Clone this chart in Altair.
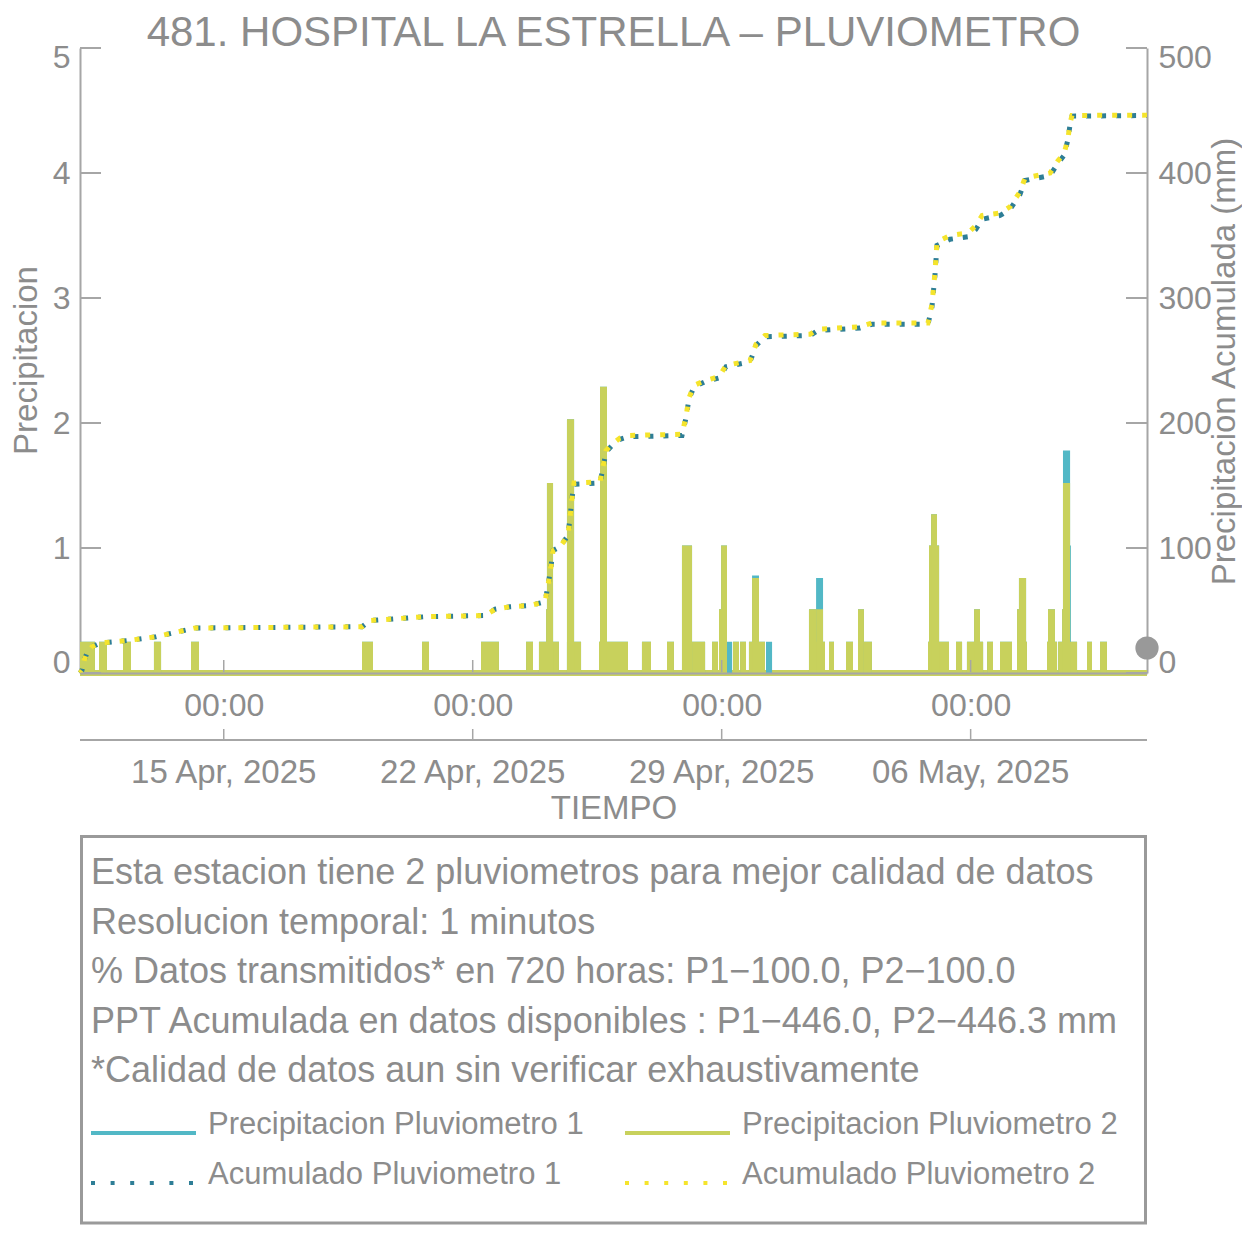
import altair as alt
import pandas as pd

START = pd.Timestamp("2025-04-10 23:00")
FONT = "Liberation Sans"
GRAY = "#8c8c8c"
AXG = "#a6a6a6"
C_P1 = "#52b8c6"
C_P2 = "#c8d15c"
C_A1 = "#2e7e96"
C_A2 = "#f5e42c"

TITLE = "481. HOSPITAL LA ESTRELLA \u2013 PLUVIOMETRO"

# ---- Precipitacion Pluviometro 2 (hours after START, mm) ----
p2_start = [0.0, 12.8, 29.0, 49.9, 74.9, 190.3, 230.8, 270.6, 301.0, 309.7, 314.5, 315.1,
            328.6, 328.6, 350.2, 350.9, 379.2, 396.1, 406.2, 413.0, 426.5, 431.2, 432.6,
            440.6, 445.4, 451.4, 453.5, 491.9, 496.7, 496.7, 505.4, 516.9, 525.0, 529.0,
            572.2, 572.9, 574.3, 591.1, 598.5, 603.3, 612.1, 620.8, 632.3, 632.3, 633.6,
            652.5, 653.2, 660.0, 662.7, 663.3, 679.5, 688.3]
p2_end = [10.1, 18.2, 34.4, 54.7, 80.3, 197.7, 235.5, 282.7, 305.7, 323.2, 319.2, 319.2,
          338.1, 333.4, 369.8, 355.6, 385.3, 400.8, 413.0, 421.8, 430.5, 436.6, 436.6,
          444.7, 449.4, 462.2, 458.2, 496.7, 502.7, 501.4, 508.8, 521.6, 529.0, 534.4,
          586.4, 579.7, 578.3, 595.2, 609.4, 607.3, 616.1, 628.9, 639.0, 635.7, 638.4,
          659.3, 657.9, 672.8, 668.1, 668.1, 682.9, 693.0]
p2_mm = [0.25, 0.25, 0.25, 0.25, 0.25, 0.25, 0.25, 0.25, 0.25, 0.25, 0.51, 1.52,
         0.25, 2.03, 0.25, 2.29, 0.25, 0.25, 1.02, 0.25, 0.25, 0.51, 1.02,
         0.25, 0.25, 0.25, 0.76, 0.51, 0.25, 0.51, 0.25, 0.25, 0.51, 0.25,
         0.25, 1.02, 1.27, 0.25, 0.25, 0.51, 0.25, 0.25, 0.25, 0.51, 0.76,
         0.25, 0.51, 0.25, 0.51, 1.52, 0.25, 0.25]

# ---- Precipitacion Pluviometro 1 ----
p1_start = [0.0, 12.8, 29.0, 49.9, 74.9, 190.3, 230.8, 270.6, 301.0, 309.7, 314.5, 315.1,
            328.6, 328.6, 350.2, 350.9, 379.2, 396.1, 406.2, 413.0, 426.5, 431.2, 432.6,
            440.6, 445.4, 451.4, 453.5, 491.9, 496.7, 496.7, 505.4, 516.9, 525.0, 529.0,
            572.2, 572.9, 574.3, 591.1, 598.5, 603.3, 612.1, 620.8, 632.3, 632.3, 633.6,
            652.5, 653.2, 660.0, 662.7, 663.3, 679.5, 688.3, 436.6, 462.9, 668.1]
p1_end = [10.1, 18.2, 34.4, 54.7, 80.3, 197.7, 235.5, 282.7, 305.7, 323.2, 319.2, 319.2,
          338.1, 333.4, 369.8, 355.6, 385.3, 400.8, 413.0, 421.8, 430.5, 436.6, 436.6,
          444.7, 449.4, 462.2, 458.2, 496.7, 502.7, 501.4, 508.8, 521.6, 529.0, 534.4,
          586.4, 579.7, 578.3, 595.2, 609.4, 607.3, 616.1, 628.9, 639.0, 635.7, 638.4,
          659.3, 657.9, 672.8, 668.1, 668.1, 682.9, 693.0, 440.0, 467.0, 668.7]
p1_mm = [0.25, 0.25, 0.25, 0.25, 0.25, 0.25, 0.25, 0.25, 0.25, 0.25, 0.51, 1.52,
         0.25, 2.03, 0.25, 2.29, 0.25, 0.25, 1.02, 0.25, 0.25, 0.51, 1.02,
         0.25, 0.25, 0.25, 0.78, 0.51, 0.25, 0.76, 0.25, 0.25, 0.51, 0.25,
         0.25, 1.02, 1.27, 0.25, 0.25, 0.51, 0.25, 0.25, 0.25, 0.51, 0.76,
         0.25, 0.51, 0.25, 0.51, 1.78, 0.25, 0.25, 0.25, 0.25, 1.02]

# ---- Acumulado (hours after START, mm) ----
cum_h = [0, 1.3, 2.7, 4.7, 8.1, 13.5, 32.4, 51.3, 77.6, 190.3, 195.7, 232.8, 273.3, 280.1,
         290.0, 303.7, 313.8, 315.8, 317.8, 319.2, 323.9, 329.3, 330.7, 332.0, 333.4, 350.9,
         352.9, 355.0, 359.0, 364.4, 369.8, 406.2, 408.9, 410.9, 414.3, 421.8, 431.2, 435.9,
         452.1, 456.2, 462.2, 492.6, 498.0, 526.4, 534.4, 572.2, 574.9, 576.9, 578.3, 587.1,
         599.2, 604.6, 608.7, 620.8, 627.6, 634.3, 637.7, 654.6, 660.0, 664.0, 666.7, 668.1,
         669.4, 720.0]
cum_p2 = [0, 2, 10, 16, 21, 24, 26, 29, 36, 37, 42, 45, 46, 51, 53, 54, 57, 70, 85, 98,
          101, 110, 125, 140, 152, 153, 165, 178, 183, 188, 190, 191, 205, 220, 230, 234,
          237, 246, 250, 263, 270, 271, 275, 277, 280, 280, 295, 320, 345, 350, 352, 358,
          366, 368, 373, 385, 396, 400, 410, 415, 428, 440, 446, 446.3]
cum_p1 = [0, 2, 10, 16, 21, 24, 26, 29, 36, 37, 42, 45, 46, 51, 53, 54, 57, 70, 85, 98,
          101, 110, 125, 140, 151, 152, 164, 177, 182, 187, 189, 190, 204, 219, 229, 233,
          236, 245, 249, 262, 269, 270, 274, 276, 279, 279, 293, 318, 342, 347, 349, 355,
          363, 366, 371, 383, 394, 398, 408, 414, 427, 439, 445.5, 446.0]

# ---- axes / ticks ----
tick_days = [(2025, 4, 15), (2025, 4, 22), (2025, 4, 29), (2025, 5, 6)]
tick_date_labels = ["15 Apr, 2025", "22 Apr, 2025", "29 Apr, 2025", "06 May, 2025"]
left_ticks = [0, 1, 2, 3, 4, 5]
right_ticks = [0, 100, 200, 300, 400, 500]
marker_h = [720.0]
marker_v = [0.2]

info_lines = [
    "Esta estacion tiene 2 pluviometros para mejor calidad de datos",
    "Resolucion temporal: 1 minutos",
    "% Datos transmitidos* en 720 horas: P1\u2212100.0, P2\u2212100.0",
    "PPT Acumulada en datos disponibles : P1\u2212446.0, P2\u2212446.3 mm",
    "*Calidad de datos aun sin verificar exhaustivamente",
]
legend_labels = ["Precipitacion Pluviometro 1", "Precipitacion Pluviometro 2",
                 "Acumulado Pluviometro 1", "Acumulado Pluviometro 2"]

W, H = 1067, 625


def hours_to_time(h):
    return START + pd.to_timedelta(h, unit="h")


bars1 = pd.DataFrame({"t0": hours_to_time(p1_start), "t1": hours_to_time(p1_end), "v": p1_mm})
bars2 = pd.DataFrame({"t0": hours_to_time(p2_start), "t1": hours_to_time(p2_end), "v": p2_mm})
acc1 = pd.DataFrame({"t": hours_to_time(cum_h), "acc": cum_p1})
acc2 = pd.DataFrame({"t": hours_to_time(cum_h), "acc": cum_p2})
ticks_df = pd.DataFrame({"t": [pd.Timestamp(year=y, month=m, day=d) for y, m, d in tick_days],
                         "lab": tick_date_labels})
lt_df = pd.DataFrame({"v": left_ticks})
rt_df = pd.DataFrame({"acc": right_ticks})
zero_df = pd.DataFrame({"v": [0.0]})
marker_df = pd.DataFrame({"t": hours_to_time(marker_h), "v": marker_v})
one = pd.DataFrame({"k": [0]})

x_scale = alt.Scale(domain=[alt.DateTime(year=2025, month=4, date=10, hours=23),
                            alt.DateTime(year=2025, month=5, date=10, hours=23)],
                    padding=0)
x_axis = alt.Axis(values=[alt.DateTime(year=y, month=m, date=d) for y, m, d in tick_days],
                  format="%H:%M", labelFontSize=32, labelColor=GRAY, labelFont=FONT,
                  labelPadding=17, labelFlush=False, labelOverlap=False,
                  ticks=False, tickSize=0, grid=False,
                  domainColor=AXG, domainWidth=2, zindex=1,
                  title="TIEMPO", titleFontSize=33, titleColor=GRAY, titleFont=FONT,
                  titleFontWeight="normal", titleY=145, titleBaseline="alphabetic")
y_scale = alt.Scale(domain=[0, 5], nice=False, padding=0)
y_axis = alt.Axis(values=left_ticks, format="d", labelFontSize=32, labelColor=GRAY,
                  labelFont=FONT, labelPadding=10, labelFlush=True, labelFlushOffset=6,
                  ticks=False, tickSize=0, grid=False, domainColor=AXG, domainWidth=2,
                  title="Precipitacion", titleFontSize=33, titleColor=GRAY, titleFont=FONT,
                  titleFontWeight="normal", titleAngle=270, titleX=-44, titleY=312,
                  titleAlign="center", titleBaseline="alphabetic")
r_scale = alt.Scale(domain=[0, 500], nice=False, padding=0)
r_axis = alt.Axis(orient="right", values=right_ticks, format="d", labelFontSize=32,
                  labelColor=GRAY, labelFont=FONT, labelPadding=11, labelFlush=True,
                  labelFlushOffset=6,
                  ticks=False, tickSize=0, grid=False, domainColor=AXG, domainWidth=2,
                  title="Precipitacion Acumulada (mm)", titleFontSize=33, titleColor=GRAY,
                  titleFont=FONT, titleFontWeight="normal", titleAngle=270, titleX=87,
                  titleY=313, titleAlign="center", titleBaseline="alphabetic")


def X(f):
    return alt.X(f"{f}:T", scale=x_scale, axis=x_axis)


def Y(f="v"):
    return alt.Y(f"{f}:Q", scale=y_scale, axis=y_axis)


def R(f="acc"):
    return alt.Y(f"{f}:Q", scale=r_scale, axis=r_axis)


title_txt = alt.Chart(one).mark_text(text=TITLE, font=FONT, fontSize=42, color=GRAY,
                                     align="center", baseline="alphabetic").encode(
    x=alt.value(W / 2), y=alt.value(-2))
baseline = alt.Chart(zero_df).mark_rule(color=C_P2, strokeWidth=6).encode(
    y=Y(), x=alt.value(0), x2=alt.value(W))
b1 = alt.Chart(bars1).mark_bar(color=C_P1, opacity=1).encode(
    x=X("t0"), x2="t1", y=Y(), y2=alt.datum(0))
b2 = alt.Chart(bars2).mark_bar(color=C_P2, opacity=1).encode(
    x=X("t0"), x2="t1", y=Y(), y2=alt.datum(0))
lticks = alt.Chart(lt_df).mark_rule(color=AXG, strokeWidth=2).encode(
    y=Y(), x=alt.value(0), x2=alt.value(21))
bticks = alt.Chart(ticks_df).mark_rule(color=AXG, strokeWidth=1.5).encode(
    x=X("t"), y=alt.value(612), y2=alt.value(624))
bticks2 = alt.Chart(ticks_df).mark_rule(color=AXG, strokeWidth=1.5).encode(
    x=X("t"), y=alt.value(681), y2=alt.value(692))
line2 = alt.Chart(one).mark_rule(color=AXG, strokeWidth=2).encode(
    x=alt.value(0), x2=alt.value(W), y=alt.value(692))
datelabs = alt.Chart(ticks_df).mark_text(font=FONT, fontSize=33, color=GRAY,
                                         baseline="alphabetic", align="center").encode(
    x=X("t"), y=alt.value(735), text="lab:N")
marker = alt.Chart(marker_df).mark_circle(color="#999999", opacity=1, size=540).encode(
    x=X("t"), y=Y())

box = alt.Chart(one).mark_rect(fillOpacity=0, stroke="#9a9a9a", strokeWidth=3).encode(
    x=alt.value(1.5), x2=alt.value(W - 1.5), y=alt.value(788.5), y2=alt.value(1175))

texts = []
for i, line in enumerate(info_lines):
    texts.append(alt.Chart(one).mark_text(text=line, font=FONT, fontSize=36, color=GRAY,
                                          align="left", baseline="alphabetic").encode(
        x=alt.value(11), y=alt.value(836 + i * 49.5)))

leg = []
leg_specs = [
    (0, 0, C_P1, [1, 0]), (1, 534, C_P2, [1, 0]),
    (2, 0, C_A1, [4, 15.6]), (3, 534, C_A2, [4, 15.6]),
]
for idx, dx, col, dash in leg_specs:
    yy = 1085 if idx < 2 else 1135
    leg.append(alt.Chart(one).mark_rule(color=col, strokeWidth=4, strokeDash=dash).encode(
        x=alt.value(11 + dx), x2=alt.value(116 + dx), y=alt.value(yy)))
    leg.append(alt.Chart(one).mark_text(text=legend_labels[idx], font=FONT, fontSize=31,
                                        color=GRAY, align="left",
                                        baseline="alphabetic").encode(
        x=alt.value(128 + dx), y=alt.value(yy + 1)))

left = alt.layer(baseline, b1, b2, lticks, bticks, bticks2, line2, datelabs, marker,
                 box, title_txt, *texts, *leg)

a1 = alt.Chart(acc1).mark_line(color=C_A1, strokeWidth=5, strokeDash=[5, 10],
                               strokeCap="butt").encode(x=X("t"), y=R())
a2 = alt.Chart(acc2).mark_line(color=C_A2, strokeWidth=5, strokeDash=[5, 10],
                               strokeDashOffset=2, strokeCap="butt").encode(x=X("t"), y=R())
rticks = alt.Chart(rt_df).mark_rule(color=AXG, strokeWidth=2).encode(
    y=R(), x=alt.value(W - 21), x2=alt.value(W))
right = alt.layer(a1, a2, rticks)

chart = alt.layer(left, right).resolve_scale(y="independent").properties(
    width=W, height=H,
    autosize=alt.AutoSizeParams(type="none"),
    padding={"left": 72, "top": 40, "right": 95, "bottom": 555},
).configure(font=FONT).configure_view(strokeWidth=0)

chart.save("out.html", embed_options={"renderer": "svg", "actions": False})
